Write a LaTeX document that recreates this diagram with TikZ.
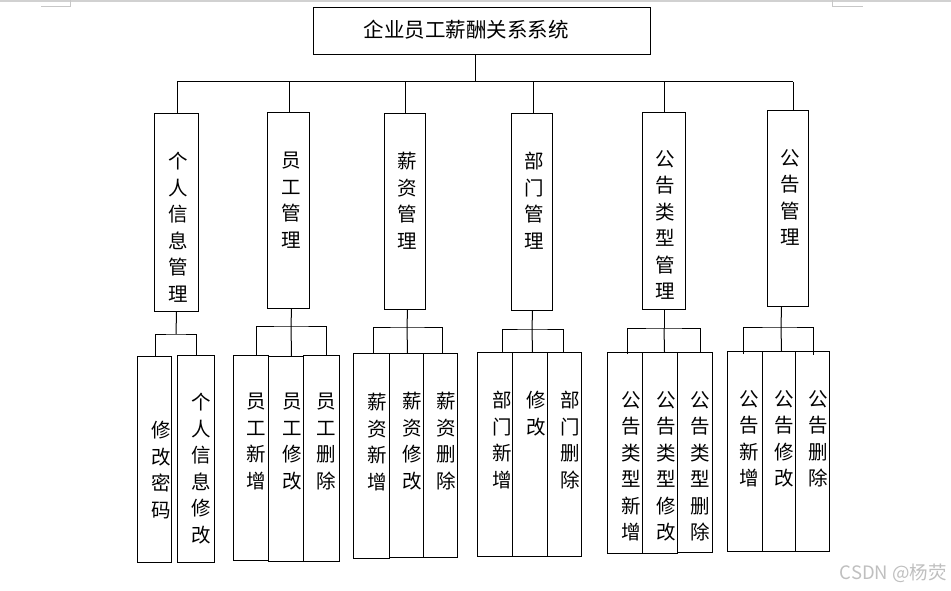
\documentclass[tikz,border=0pt]{standalone}
\usepackage{fontspec}
\newfontfamily\cjk{Noto Sans CJK SC}
\begin{document}
\begin{tikzpicture}[x=1pt,y=-1pt,
  ln/.style={line width=1pt,black},
  box/.style={draw,line width=1pt,anchor=north west,inner sep=0pt},
  vt/.style={anchor=north,inner sep=0pt,align=center,text width=22pt,
    font=\cjk\fontsize{19.5}{26.5}\selectfont},
  edgemark/.style={draw=black!22,line width=1pt}]
\useasboundingbox (0,0) rectangle (951,591);
% page edge marks
\fill[black!18] (0,0) rectangle (951,2);
\draw[edgemark] (41,7) -- (70,7) -- (70,0);
\draw[edgemark] (832,0) -- (832,7) -- (863,7);
% title
\node[box,minimum width=337pt,minimum height=47pt] (root) at (313,7) {};
\node[inner sep=0pt,font=\cjk\fontsize{20.5}{24}\selectfont] (roott) at (466,30) {企业员工薪酬关系系统};
\coordinate (bus) at (475,82);
\draw[ln] (root.south -| bus) -- (bus);
% level 1 boxes
\node[box,minimum width=44pt,minimum height=198pt] (A) at (154,113) {};
\node[box,minimum width=42pt,minimum height=196pt] (B) at (267,112) {};
\node[box,minimum width=41pt,minimum height=196pt] (C) at (384,113) {};
\node[box,minimum width=41pt,minimum height=197pt] (D) at (511,113) {};
\node[box,minimum width=43pt,minimum height=197pt] (E) at (642,112) {};
\node[box,minimum width=41pt,minimum height=196pt] (F) at (767,110) {};
\node[vt] (At) at (178,152) {个\\人\\信\\息\\管\\理};
\node[vt] (Bt) at (291,152) {员\\工\\管\\理};
\node[vt] (Ct) at (407,152) {薪\\资\\管\\理};
\node[vt] (Dt) at (534,152) {部\\门\\管\\理};
\node[vt] (Et) at (665,150) {公\\告\\类\\型\\管\\理};
\node[vt] (Ft) at (790,149) {公\\告\\管\\理};
% main bus
\coordinate (busL) at (177,82);
\coordinate (busR) at (793,82);
\draw[ln] (busL) -- (busR);
\draw[ln] ([xshift=1pt]A.north) -- ([xshift=1pt]A.north |- bus);
\draw[ln] ([xshift=1pt]B.north) -- ([xshift=1pt]B.north |- bus);
\draw[ln] ([xshift=0.5pt]C.north) -- ([xshift=0.5pt]C.north |- bus);
\draw[ln] ([xshift=1.5pt]D.north) -- ([xshift=1.5pt]D.north |- bus);
\draw[ln] (E.north) -- (E.north |- bus);
\draw[ln] ([xshift=5pt]F.north) -- ([xshift=5pt]F.north |- bus);
% level 2 boxes
\node[box,minimum width=34pt,minimum height=206pt] (A1) at (137,356) {};
\node[box,minimum width=37pt,minimum height=207pt] (A2) at (177,355) {};
\node[box,minimum width=35pt,minimum height=205pt] (B1) at (233,355) {};
\node[box,minimum width=35pt,minimum height=205pt] (B2) at (268,356) {};
\node[box,minimum width=36pt,minimum height=206pt] (B3) at (303,355) {};
\node[box,minimum width=36pt,minimum height=205pt] (C1) at (353,353) {};
\node[box,minimum width=34pt,minimum height=204pt] (C2) at (389,353) {};
\node[box,minimum width=34pt,minimum height=204pt] (C3) at (423,353) {};
\node[box,minimum width=35pt,minimum height=204pt] (D1) at (477,352) {};
\node[box,minimum width=35pt,minimum height=204pt] (D2) at (512,352) {};
\node[box,minimum width=34pt,minimum height=204pt] (D3) at (547,352) {};
\node[box,minimum width=35pt,minimum height=201pt] (E1) at (607,352) {};
\node[box,minimum width=35pt,minimum height=201pt] (E2) at (642,352) {};
\node[box,minimum width=35pt,minimum height=200pt] (E3) at (677,352) {};
\node[box,minimum width=35pt,minimum height=200pt] (F1) at (727,351) {};
\node[box,minimum width=33pt,minimum height=200pt] (F2) at (762,351) {};
\node[box,minimum width=34pt,minimum height=200pt] (F3) at (795,351) {};
% level 2 texts
\node[vt] (A1t) at (161,421) {修\\改\\密\\码};
\node[vt] (A2t) at (201,393) {个\\人\\信\\息\\修\\改};
\node[vt] (B1t) at (256,393) {员\\工\\新\\增};
\node[vt] (B2t) at (292,393) {员\\工\\修\\改};
\node[vt] (B3t) at (326,393) {员\\工\\删\\除};
\node[vt] (C1t) at (377,393) {薪\\资\\新\\增};
\node[vt] (C2t) at (412,392) {薪\\资\\修\\改};
\node[vt] (C3t) at (446,392) {薪\\资\\删\\除};
\node[vt] (D1t) at (502,391) {部\\门\\新\\增};
\node[vt] (D2t) at (536,391) {修\\改};
\node[vt] (D3t) at (570,391) {部\\门\\删\\除};
\node[vt] (E1t) at (631,391) {公\\告\\类\\型\\新\\增};
\node[vt] (E2t) at (666,391) {公\\告\\类\\型\\修\\改};
\node[vt] (E3t) at (700,391) {公\\告\\类\\型\\删\\除};
\node[vt] (F1t) at (749,390) {公\\告\\新\\增};
\node[vt] (F2t) at (784,390) {公\\告\\修\\改};
\node[vt] (F3t) at (818,390) {公\\告\\删\\除};
% group A
\coordinate (ba) at (176,334);
\draw[ln] (A.south) -- (ba);
\draw[ln] ([xshift=1pt]A1.north) |- (ba) -| ([xshift=0.5pt]A2.north);
% group B
\coordinate (bb) at (291,326);
\draw[ln] ([xshift=3pt]B.south) -- (bb);
\draw[ln] ([xshift=5.5pt]B1.north) |- (bb) -| ([xshift=5pt]B3.north);
\draw[ln] (bb) -- ([xshift=5.5pt]B2.north);
% group C
\coordinate (bc) at (407,327);
\draw[ln] ([xshift=2.5pt]C.south) -- (bc);
\draw[ln] ([xshift=2pt]C1.north) |- (bc) -| ([xshift=2pt]C3.north);
\draw[ln] (bc) -- ([xshift=1pt]C2.north);
% group D
\coordinate (bd) at (532,329);
\draw[ln] ([xshift=0.5pt]D.south) -- (bd);
\draw[ln] ([xshift=7.5pt]D1.north) |- (bd) -| ([xshift=-1pt]D3.north);
\draw[ln] (bd) -- ([xshift=2.5pt]D2.north);
% group E
\coordinate (be) at (664,328);
\draw[ln] (E.south) -- (be);
\draw[ln] ([xshift=2.5pt,yshift=-2pt]E1.north) |- (be) -| ([xshift=5.5pt]E3.north);
\draw[ln] (be) -- ([xshift=4.5pt]E2.north);
% group F
\coordinate (bf) at (781,327);
\draw[ln] ([xshift=-6.5pt]F.south) -- (bf);
\draw[ln] ([xshift=-1.5pt,yshift=-3pt]F1.north) |- (bf) -| ([xshift=1pt,yshift=-4pt]F3.north);
\draw[ln] (bf) -- ([xshift=2.5pt]F2.north);
% watermark
\node[inner sep=0pt,text=black!25,font=\cjk\fontsize{18.5}{20}\selectfont,anchor=east] (wm) at (947,573) {CSDN @杨荧};
\end{tikzpicture}
\end{document}
